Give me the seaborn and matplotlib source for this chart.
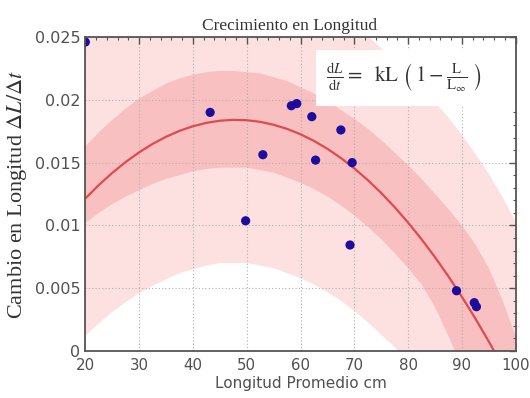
import numpy as np
import pandas as pd
import matplotlib
matplotlib.use("Agg")
import matplotlib.pyplot as plt
from matplotlib.patches import Rectangle
from matplotlib.ticker import MultipleLocator
import seaborn as sns

# ---------------- data ----------------
longitud = [20.0, 43.2, 49.8, 53.0, 58.3, 59.3, 62.1, 62.8, 67.5, 69.2, 69.6, 89.0, 92.3, 92.7]
cambio = [0.0246, 0.0190, 0.01037, 0.01563, 0.01953, 0.0197, 0.01866, 0.0152,
          0.0176, 0.00844, 0.0150, 0.0048, 0.00385, 0.00353]

x_curva = [20, 22.5, 25, 27.5, 30, 32.5, 35, 37.5, 40, 42.5, 45, 47.5, 50, 52.5, 55, 57.5,
           60, 62.5, 65, 67.5, 70, 72.5, 75, 77.5, 80, 82.5, 85, 87.5, 90, 92.5, 95, 97.5, 100]
ajuste = [0.012144, 0.013213, 0.014181, 0.015050, 0.015819, 0.016488, 0.017058, 0.017527,
          0.017897, 0.018166, 0.018336, 0.018406, 0.018376, 0.018246, 0.018016, 0.017687,
          0.017258, 0.016728, 0.016099, 0.015370, 0.014541, 0.013612, 0.012583, 0.011455,
          0.010227, 0.008898, 0.007470, 0.005942, 0.004314, 0.002587, 0.000759, -0.001168,
          -0.003196]
banda_int_sup = [0.0163, 0.0174, 0.0184, 0.0193, 0.0201, 0.0207, 0.0213, 0.0217, 0.0220,
                 0.0222, 0.0223, 0.0223, 0.0222, 0.0221, 0.0218, 0.0215, 0.0210, 0.0205,
                 0.0199, 0.0192, 0.0185, 0.0177, 0.0168, 0.0158, 0.0148, 0.0137, 0.0125,
                 0.0113, 0.0100, 0.0085, 0.0066, 0.0041, 0.0012]
banda_int_inf = [0.0102, 0.0110, 0.0117, 0.0123, 0.0128, 0.0133, 0.0137, 0.0140, 0.0143,
                 0.0145, 0.0146, 0.0146, 0.0146, 0.0144, 0.0142, 0.0138, 0.0134, 0.0129,
                 0.0123, 0.0116, 0.0108, 0.0099, 0.0089, 0.0078, 0.0066, 0.0053, 0.0035,
                 0.0012, -0.0013, -0.0040, -0.0069, -0.0098, -0.0129]
banda_ext_sup = [0.0330, 0.0330, 0.0330, 0.0330, 0.0330, 0.0330, 0.0330, 0.0330, 0.0330,
                 0.0330, 0.0330, 0.0330, 0.0330, 0.0325, 0.0315, 0.0305, 0.0295, 0.0287,
                 0.0278, 0.0269, 0.0260, 0.0251, 0.0241, 0.0231, 0.0220, 0.0209, 0.0198,
                 0.0186, 0.0172, 0.0157, 0.0141, 0.0123, 0.0103]
banda_ext_inf = [0.0012, 0.0022, 0.0031, 0.0039, 0.0046, 0.0052, 0.0057, 0.0062, 0.0065,
                 0.0068, 0.0070, 0.0070, 0.0070, 0.0068, 0.0066, 0.0062, 0.0058, 0.0053,
                 0.0047, 0.0040, 0.0032, 0.0023, 0.0013, 0.0003, -0.0008, -0.0020, -0.0033,
                 -0.0047, -0.0062, -0.0078, -0.0095, -0.0113, -0.0132]

x_ticks = [20, 30, 40, 50, 60, 70, 80, 90, 100]
y_ticks = [0, 0.005, 0.01, 0.015, 0.02, 0.025]
y_tick_labels = ["0", "0.005", "0.01", "0.015", "0.02", "0.025"]

titulo = "Crecimiento en Longitud"
etiqueta_x = "Longitud Promedio cm"
etiqueta_y = r"Cambio en Longitud $\Delta L/\Delta t$"
ecuacion = r"$\frac{\mathrm{d}L}{\mathrm{d}t}=\ \ \mathrm{kL}\ \left(\,1-\frac{\mathrm{L}}{\mathrm{L}_{\infty}}\ \right)$"

# ---------------- plotting ----------------
sns.set_theme(style="white")
plt.rcParams["font.family"] = ["DejaVu Sans"]
plt.rcParams["mathtext.fontset"] = "stix"

fig = plt.figure(figsize=(5.3, 3.98), dpi=100)
ax = fig.add_axes([0.161, 0.118, 0.812, 0.789])

puntos = pd.DataFrame({"L": longitud, "dL": cambio})
curva = pd.DataFrame({"L": x_curva, "fit": ajuste})

ax.fill_between(x_curva, banda_ext_inf, banda_ext_sup, color="#fde1e1", linewidth=0, zorder=1)
ax.fill_between(x_curva, banda_int_inf, banda_int_sup, color="#f8c0c0", linewidth=0, zorder=2)

sns.lineplot(data=curva, x="L", y="fit", ax=ax, color="#e04a4e", linewidth=1.6, zorder=3)
sns.scatterplot(data=puntos, x="L", y="dL", ax=ax, color="#1d0c9e", s=44,
                edgecolor="none", zorder=5)

# equation box
ax.add_patch(Rectangle((0.537, 0.78), 0.463, 0.18, transform=ax.transAxes,
                       facecolor="white", edgecolor="none", zorder=4))
ax.text(0.56, 0.872, ecuacion, transform=ax.transAxes, fontsize=15,
        color="#333333", va="center", ha="left", zorder=6)

ax.set_xlim(20, 100)
ax.set_ylim(0, 0.025)
ax.set_xticks(x_ticks)
ax.set_yticks(y_ticks, labels=y_tick_labels)
ax.xaxis.set_minor_locator(MultipleLocator(2))
ax.yaxis.set_minor_locator(MultipleLocator(0.001))

ax.grid(True, which="major", linestyle=(0, (1, 2)), color="#b0b0b0", linewidth=0.8, zorder=0)
ax.set_axisbelow(False)
for gl in ax.get_xgridlines() + ax.get_ygridlines():
    gl.set_zorder(2.5)

ax.tick_params(which="both", direction="in", top=True, right=True, colors="#555555",
               labelcolor="#505050", labelsize=11.5)
ax.tick_params(axis="x", labelsize=10.8, pad=5)
ax.tick_params(which="major", length=5, width=1)
ax.tick_params(which="minor", length=2.5, width=0.8)
for s in ax.spines.values():
    s.set_color("#555555")
    s.set_linewidth(1.3)
    s.set_zorder(7)

ax.set_xlabel(etiqueta_x, fontsize=11, color="#505050", labelpad=2)
ax.set_ylabel(etiqueta_y, fontsize=16, color="#333333", family="Liberation Serif", labelpad=4)
ax.set_title(titulo, fontsize=12.5, color="#333333", family="Liberation Serif", pad=5, x=0.475)

fig.savefig("out.png", dpi=100)
